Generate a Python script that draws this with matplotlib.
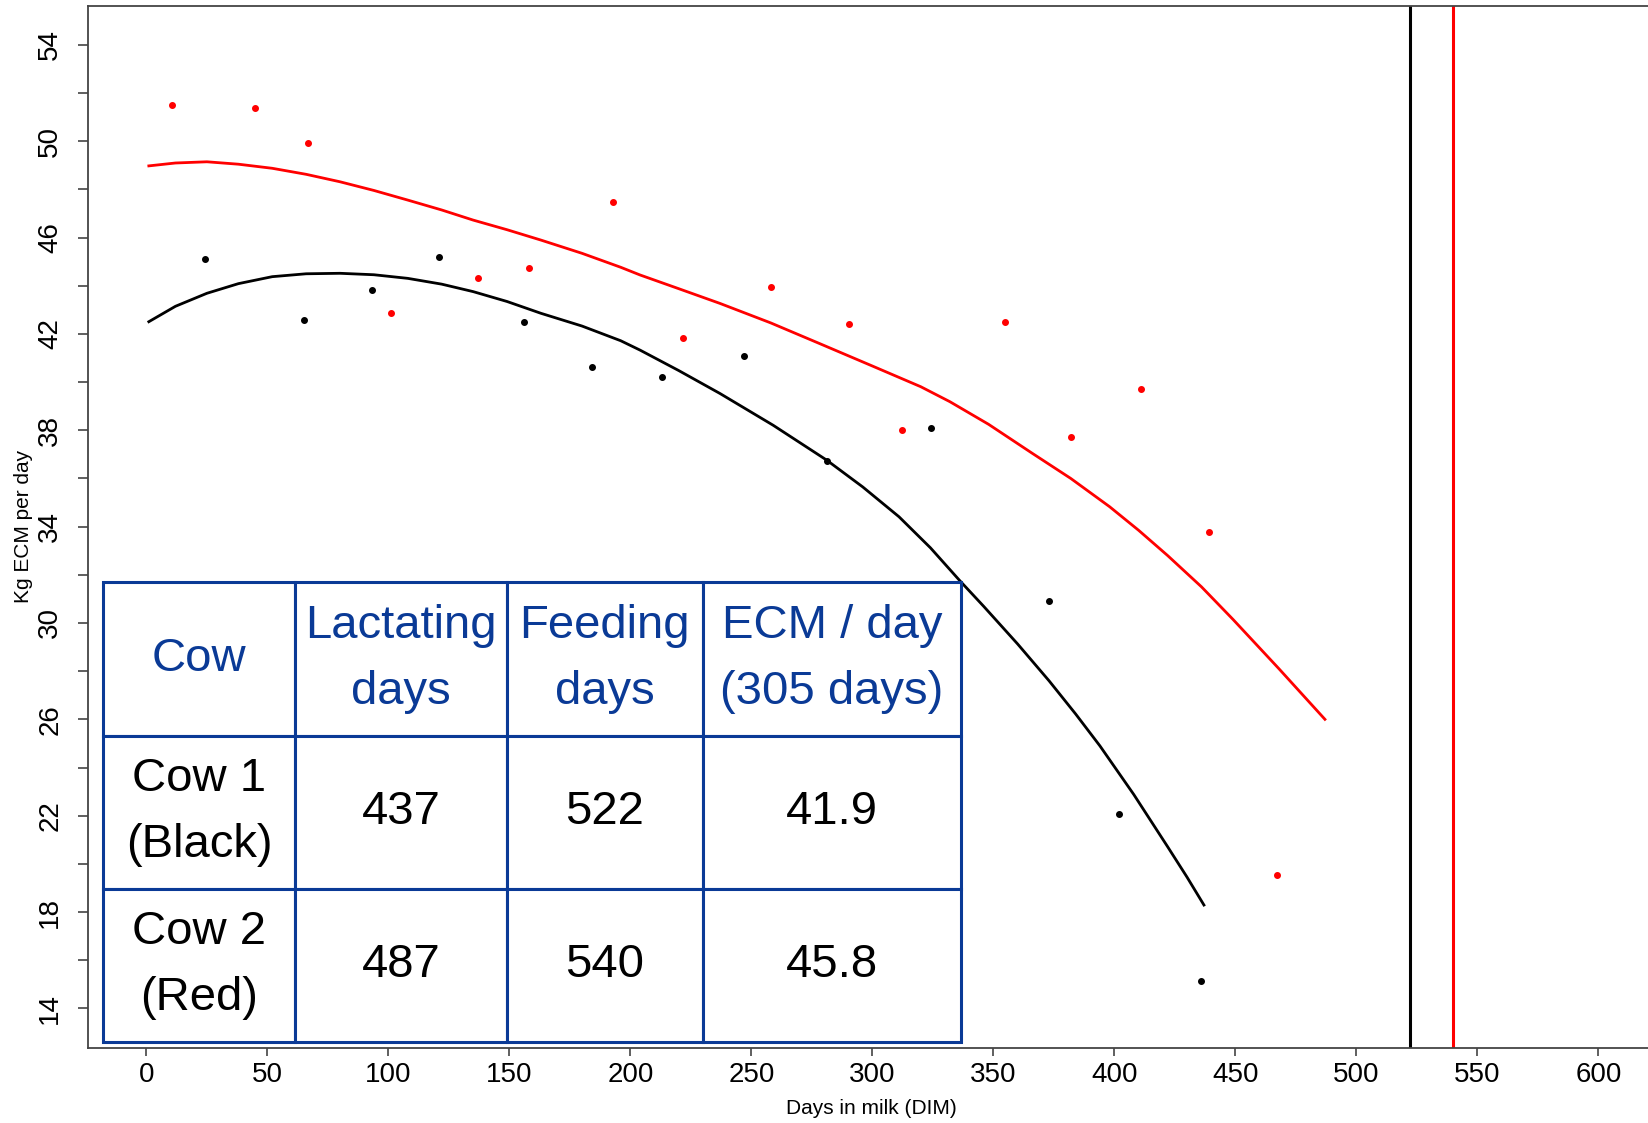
import matplotlib
matplotlib.use("Agg")
import matplotlib.pyplot as plt

# observed daily ECM (kg) per cow
cow1_dim = [24.2, 65.0, 93.2, 121.0, 156.0, 184.2, 213.0, 247.0, 281.1, 324.2, 373.1, 402.0, 435.8]
cow1_ecm = [45.10, 42.58, 43.83, 45.18, 42.51, 40.64, 40.22, 41.08, 36.74, 38.10, 30.90, 22.05, 15.14]

cow2_dim = [10.7, 45.0, 66.9, 100.9, 137.1, 157.9, 192.9, 221.8, 258.2, 290.2, 312.3,
            355.0, 381.9, 411.1, 439.1, 467.3]
cow2_ecm = [51.50, 51.37, 49.91, 42.86, 44.32, 44.75, 47.47, 41.84, 43.94, 42.43, 38.01,
            42.50, 37.71, 39.72, 33.77, 19.53]

# fitted lactation curves
fit1_dim = [1, 12, 25, 38, 52, 66, 80, 94, 108, 122, 135, 149, 163, 180, 196, 204, 220, 237,
            259, 281, 296, 311, 324, 336, 346, 360, 373, 384, 394, 408, 422, 430, 437]
fit1_ecm = [42.51, 43.15, 43.69, 44.09, 44.38, 44.50, 44.52, 44.46, 44.31, 44.07, 43.76,
            43.35, 42.86, 42.33, 41.72, 41.33, 40.48, 39.53, 38.21, 36.77, 35.65, 34.41,
            33.12, 31.77, 30.69, 29.13, 27.60, 26.22, 24.90, 22.88, 20.71, 19.45, 18.29]

fit2_dim = [1, 12, 25, 38, 52, 66, 80, 94, 108, 122, 135, 149, 163, 180, 196, 204, 220, 237,
            258, 278, 300, 320, 332, 348, 366, 382, 398, 410, 422, 436, 449, 468, 487]
fit2_ecm = [48.98, 49.10, 49.15, 49.05, 48.88, 48.63, 48.32, 47.96, 47.56, 47.15, 46.73,
            46.33, 45.90, 45.35, 44.77, 44.45, 43.88, 43.27, 42.46, 41.61, 40.67, 39.81,
            39.19, 38.25, 37.05, 36.00, 34.83, 33.85, 32.80, 31.50, 30.15, 28.10, 26.00]

# summary table
col_labels = ["Cow", "Lactating\ndays", "Feeding\ndays", "ECM / day\n(305 days)"]
row_cows = ["Cow 1\n(Black)", "Cow 2\n(Red)"]
lactating_days = [437, 487]
feeding_days = [522, 540]
ecm_305 = [41.9, 45.8]

xticks = list(range(0, 601, 50))
yticks = list(range(14, 55, 2))

plt.rcParams['font.family'] = ['Liberation Sans', 'DejaVu Sans']

fig = plt.figure(figsize=(16.48, 11.23), dpi=100)
ax = fig.add_axes([0.0536, 0.0665, 0.9464, 0.9284])

ax.plot(fit1_dim, fit1_ecm, color='black', lw=2.0, zorder=3)
ax.plot(fit2_dim, fit2_ecm, color='#ff0000', lw=2.0, zorder=3)
ax.plot(cow1_dim, cow1_ecm, 'o', color='black', ms=4, zorder=4)
ax.plot(cow2_dim, cow2_ecm, 'o', color='#ff0000', ms=4, zorder=4)

# end of feeding period
ax.axvline(feeding_days[0], color='black', lw=2.2, zorder=2)
ax.axvline(feeding_days[1], color='#ff0000', lw=2.2, zorder=2)

ax.set_xlim(-24.0, 620.5)
ax.set_ylim(12.34, 55.63)

ax.set_xticks(xticks)
ax.set_xticklabels([str(v) for v in xticks], fontsize=20)
ax.set_yticks(yticks)
ax.set_yticklabels([str(v) if (v - 14) % 4 == 0 else '' for v in yticks],
                   fontsize=20, rotation=90, va='center')
ax.tick_params(axis='x', length=6, width=1.2, pad=4, color='#444444')
ax.tick_params(axis='y', length=7, width=1.2, pad=11, color='#444444')

for side in ['left', 'bottom', 'top']:
    ax.spines[side].set_color('#444444')
    ax.spines[side].set_linewidth(1.3)
ax.spines['right'].set_visible(False)

fig.text(0.529, 0.0125, "Days in milk (DIM)", fontsize=15, ha='center', va='center')
fig.text(0.014, 0.531, "Kg ECM per day", fontsize=15, ha='center', va='center', rotation=90)

# table
blue = '#0a3a96'
cells = [[row_cows[i], str(lactating_days[i]), str(feeding_days[i]), str(ecm_305[i])]
         for i in range(2)]
widths = [0.1231, 0.1355, 0.1260, 0.1654]
tb = ax.table(cellText=[col_labels] + cells, colWidths=widths, cellLoc='center',
              bbox=[0.0096, 0.0063, 0.5499, 0.4405], zorder=10)
tb.auto_set_font_size(False)
for (r, c), cell in tb.get_celld().items():
    cell.set_edgecolor(blue)
    cell.set_linewidth(2.2)
    cell.set_facecolor('white')
    t = cell.get_text()
    t.set_fontsize(34)
    t.set_linespacing(1.65)
    t.set_color(blue if r == 0 else 'black')

fig.savefig("out.png", dpi=100, facecolor='white')
plt.close()
